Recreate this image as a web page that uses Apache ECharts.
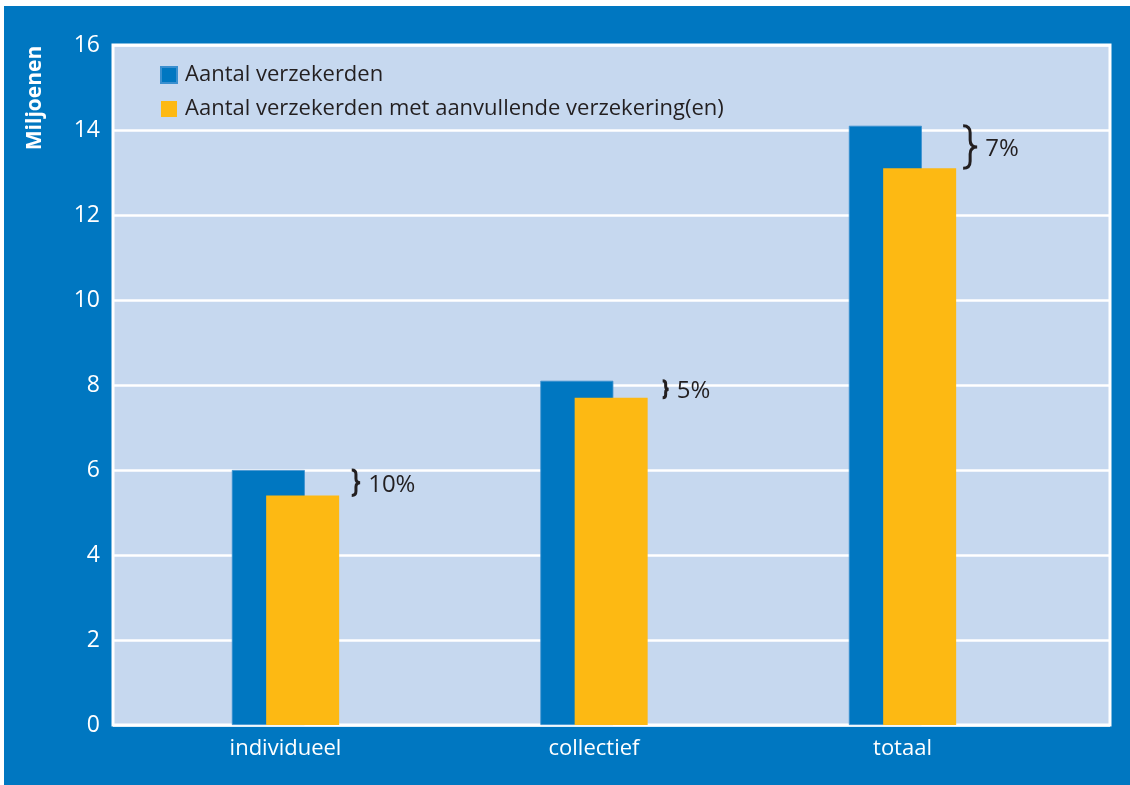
<!DOCTYPE html>
<html>
<head>
<meta charset="utf-8">
<script src="https://cdn.jsdelivr.net/npm/echarts@6/dist/echarts.min.js"></script>
<style>
  html, body { margin: 0; padding: 0; background: #ffffff; }
  #chart { position: absolute; left: 4px; top: 6px; width: 1126px; height: 779px; }
</style>
</head>
<body>
<div id="chart"></div>
<script>
// Verzekerden per type polis (miljoenen)
const categories = ['individueel', 'collectief', 'totaal'];
const verzekerden = [6.0, 8.1, 14.1];
const aanvullend = [5.4, 7.7, 13.1];
const yTicks = [0, 16, 2]; // min, max, interval

const seriesNames = ['Aantal verzekerden', 'Aantal verzekerden met aanvullende verzekering(en)'];

const FONT = '"Open Sans", "DejaVu Sans", sans-serif';
const BLUE = '#0077c1';
const YELLOW = '#fdb913';
const DARK = '#231f20';
const BAR_W = 73;
const BAR_GAP = -0.53;

// Brace + percentage annotations, one per category
const braceData = categories.map((c, i) => [i, verzekerden[i], aanvullend[i]]);

function renderBrace(params, api) {
  const cat = api.value(0);
  const hi = api.value(1);
  const lo = api.value(2);
  const pTop = api.coord([cat, hi]);
  const pBot = api.coord([cat, lo]);
  const groupW = BAR_W * 2 + BAR_W * BAR_GAP;
  const yellowRight = pTop[0] + groupW / 2;
  const yt = pTop[1];
  const yb = pBot[1];
  const h = yb - yt;
  const w = Math.max(6, h * 0.33);
  const x1 = yellowRight + 21;
  const x0 = x1 - w;
  const xm = (x0 + x1) / 2;
  const ym = (yt + yb) / 2;
  const q = Math.min(w / 2, h / 4);
  const path =
    'M' + x0 + ' ' + yt +
    ' Q' + xm + ' ' + yt + ' ' + xm + ' ' + (yt + q) +
    ' L' + xm + ' ' + (ym - q) +
    ' Q' + xm + ' ' + ym + ' ' + x1 + ' ' + ym +
    ' Q' + xm + ' ' + ym + ' ' + xm + ' ' + (ym + q) +
    ' L' + xm + ' ' + (yb - q) +
    ' Q' + xm + ' ' + yb + ' ' + x0 + ' ' + yb;
  const pct = Math.round((hi - lo) / hi * 100) + '%';
  return {
    type: 'group',
    children: [
      {
        type: 'path',
        shape: { pathData: path },
        style: { fill: null, stroke: DARK, lineWidth: 3 }
      },
      {
        type: 'text',
        style: {
          text: pct,
          x: x1 + 8,
          y: ym + 2,
          verticalAlign: 'middle',
          align: 'left',
          fill: DARK,
          fontSize: 24,
          fontFamily: FONT
        }
      }
    ]
  };
}

const chart = echarts.init(document.getElementById('chart'), null, { renderer: 'canvas' });

chart.setOption({
  backgroundColor: BLUE,
  animation: false,
  textStyle: { fontFamily: FONT },
  graphic: [{
    type: 'text',
    x: 31,
    y: 92,
    rotation: Math.PI / 2,
    style: {
      text: 'Miljoenen',
      fill: '#ffffff',
      fontSize: 21,
      fontWeight: 'bold',
      fontFamily: FONT,
      align: 'center',
      verticalAlign: 'middle'
    }
  }],
  legend: {
    data: seriesNames,
    orient: 'vertical',
    left: 151,
    top: 53,
    itemWidth: 16,
    itemHeight: 16,
    itemGap: 12,
    icon: 'rect',
    textStyle: { color: DARK, fontSize: 22, fontFamily: FONT, padding: [0, 0, 0, 3] }
  },
  grid: [
    {
      left: 109, right: 20, top: 39, bottom: 60,
      show: true,
      backgroundColor: '#c6d8ef',
      borderColor: '#ffffff',
      borderWidth: 3,
      containLabel: false
    },
    {
      left: 127.25, right: 73.25, top: 39, bottom: 60,
      containLabel: false
    }
  ],
  xAxis: [
    {
      gridIndex: 0,
      type: 'category',
      data: categories,
      show: false
    },
    {
      gridIndex: 1,
      type: 'category',
      data: categories,
      axisLine: { show: false },
      axisTick: { show: false },
      splitLine: { show: false },
      axisLabel: { color: '#ffffff', fontSize: 22, fontFamily: FONT, margin: 13 }
    }
  ],
  yAxis: [
    {
      gridIndex: 0,
      type: 'value',
      min: yTicks[0],
      max: yTicks[1],
      interval: yTicks[2],
      axisLine: { show: false },
      axisTick: { show: false },
      axisLabel: { color: '#ffffff', fontSize: 23, fontFamily: FONT, margin: 13 },
      splitLine: { lineStyle: { color: '#ffffff', width: 2.5 } }
    },
    {
      gridIndex: 1,
      type: 'value',
      min: yTicks[0],
      max: yTicks[1],
      show: false
    }
  ],
  series: [
    {
      name: seriesNames[0],
      type: 'bar',
      xAxisIndex: 1,
      yAxisIndex: 1,
      data: verzekerden,
      barWidth: BAR_W,
      barGap: (BAR_GAP * 100) + '%',
      itemStyle: { color: BLUE, borderColor: '#3a8fcf', borderWidth: 0.8 }
    },
    {
      name: seriesNames[1],
      type: 'bar',
      xAxisIndex: 1,
      yAxisIndex: 1,
      data: aanvullend,
      barWidth: BAR_W,
      barGap: (BAR_GAP * 100) + '%',
      itemStyle: { color: YELLOW }
    },
    {
      name: 'verschil',
      type: 'custom',
      xAxisIndex: 1,
      yAxisIndex: 1,
      data: braceData,
      encode: { x: 0, y: [1, 2] },
      renderItem: renderBrace,
      z: 5
    }
  ]
});
</script>
</body>
</html>
